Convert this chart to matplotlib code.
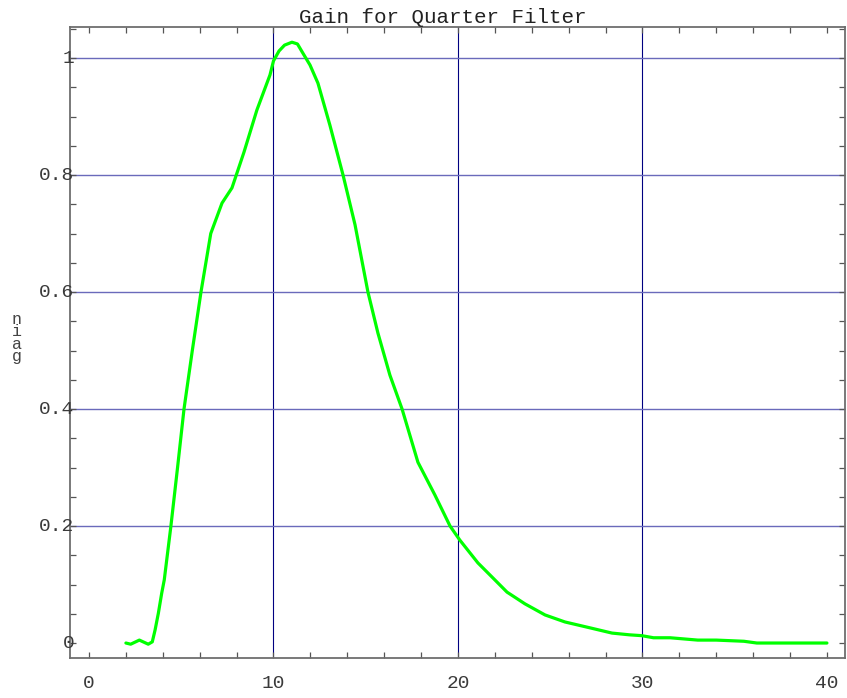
import numpy as np
import matplotlib
matplotlib.use("Agg")
import matplotlib.pyplot as plt
from matplotlib.ticker import MultipleLocator

# values
freq = [2.0, 2.26, 2.73, 3.21, 3.43, 3.58, 3.76, 3.94, 4.08, 4.44, 4.8, 5.15,
        5.6, 6.07, 6.6, 7.21, 7.75, 8.4, 9.1, 9.81, 10.0, 10.3, 10.6, 11.0,
        11.3, 11.6, 11.98, 12.41, 13.06, 13.77, 14.42, 15.12, 15.66, 16.31,
        16.97, 17.83, 18.75, 19.57, 20.1, 21.08, 21.84, 22.66, 23.63, 24.72,
        25.8, 27.15, 28.35, 29.3, 29.96, 30.6, 31.5, 33.0, 34.0, 35.5, 36.2,
        40.0]
gain = [0.0, -0.002, 0.005, -0.002, 0.002, 0.022, 0.051, 0.085, 0.108, 0.2,
        0.3, 0.4, 0.5, 0.6, 0.7, 0.752, 0.778, 0.839, 0.911, 0.971, 0.995,
        1.012, 1.022, 1.027, 1.024, 1.008, 0.988, 0.957, 0.885, 0.8, 0.715,
        0.6, 0.53, 0.458, 0.4, 0.309, 0.253, 0.2, 0.176, 0.137, 0.113, 0.087,
        0.067, 0.048, 0.036, 0.026, 0.017, 0.014, 0.0126, 0.009, 0.009, 0.005,
        0.005, 0.003, 0.0, 0.0]

x_ticks = [0, 10, 20, 30, 40]
y_ticks = [0, 0.2, 0.4, 0.6, 0.8, 1.0]
y_tick_labels = ["0", "0.2", "0.4", "0.6", "0.8", "1"]

mono = "Liberation Mono"
grey = "#555555"

fig = plt.figure(figsize=(8.47, 6.98), dpi=100)
ax = fig.add_axes([70 / 847, 1 - 658 / 698, 775 / 847, 631 / 698])

ax.set_xlim(-1.03, 40.98)
ax.set_ylim(-0.0256, 1.053)

# grid lines
for xv in x_ticks[1:-1]:
    ax.axvline(xv, color="#000080", lw=0.8, zorder=1)
for yv in y_ticks[1:]:
    ax.axhline(yv, color="#6a6abb", lw=1.0, zorder=1)

ax.plot(freq, gain, color="#00ff00", lw=2.3, zorder=3,
        solid_joinstyle="round", solid_capstyle="round")

ax.xaxis.set_major_locator(MultipleLocator(2))
ax.yaxis.set_major_locator(MultipleLocator(0.05))
ax.set_xticklabels([])
ax.set_yticklabels([])
ax.tick_params(direction="in", length=4, width=0.9, color=grey,
               top=True, right=True, labelbottom=False, labelleft=False)
for s in ax.spines.values():
    s.set_color("#6e6e6e")
    s.set_linewidth(1.3)

# tick labels as real text
for xv in x_ticks:
    ax.annotate(str(xv), xy=(xv, 0), xycoords=("data", "axes fraction"),
                xytext=(0, -12), textcoords="offset points", ha="center",
                va="top", fontsize=14, family=mono, color="#3a3a3a")
for yv, lab in zip(y_ticks, y_tick_labels):
    ax.annotate(lab, xy=(0, yv), xycoords=("axes fraction", "data"),
                xytext=(3, 0), textcoords="offset points", ha="right",
                va="center", fontsize=14, family=mono, color="#3a3a3a")

fig.text(443 / 847, 1 - 23 / 698, "Gain for Quarter Filter", ha="center",
         va="baseline", fontsize=15, family=mono, color="#222222")
fig.text(17 / 847, 1 - 338 / 698, "n\ni\na\ng", ha="center", va="center",
         fontsize=12, family=mono, color="#444444", linespacing=0.78)

fig.savefig("out.png", dpi=100)
